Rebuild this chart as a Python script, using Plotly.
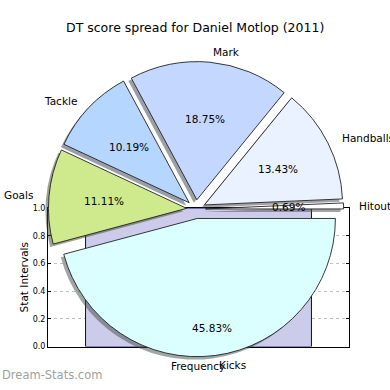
import math
import plotly.graph_objects as go

# ---- data ----
title_text = "DT score spread for Daniel Motlop (2011)"
slice_labels = ["Kicks", "Goals", "Tackle", "Mark", "Handballs", "Hitout"]
slice_values = [198, 48, 44, 81, 58, 3]
bar_categories = [0]
bar_values = [1.0]
y_ticks = [0.0, 0.2, 0.4, 0.6, 0.8, 1.0]
y_label = "Stat Intervals"
x_label = "Frequency"
watermark = "Dream-Stats.com"

# ---- style ----
W = H = 390
FONT = "DejaVu Sans"
slice_colors = ["#dbffff", "#cfea8c", "#b4d6ff", "#c4d8ff", "#eaf2ff", "#ffffff"]
pct_dist = [0.82, 0.6, 0.6, 0.6, 0.6, 0.6]
label_dist = 1.1
PULL = 0.068
PIE_CX, PIE_CY, PIE_R = 196.0, 210.0, 138.0   # px (y from top)
DOMAIN_FIX = 1.025
SHADOW = 3.0
AX_L, AX_R, AX_T, AX_B = 48.0, 349.0, 209.0, 350.7


def hex_rgb(h):
    h = h.lstrip("#")
    return tuple(int(h[i:i + 2], 16) for i in (0, 2, 4))


half = PIE_R * (1 + PULL) * DOMAIN_FIX


def pie_domain(dx, dy):
    cx, cy = PIE_CX + dx, PIE_CY + dy
    return dict(x=[(cx - half) / W, (cx + half) / W],
                y=[(H - cy - half) / H, (H - cy + half) / H])


fig = go.Figure()

fig.add_trace(go.Bar(
    x=bar_categories, y=bar_values, width=0.8,
    marker=dict(color="#ccccea", line=dict(color="#000080", width=1)),
    hoverinfo="skip", showlegend=False,
))

shadow_colors = []
for c in slice_colors:
    r, g, b = hex_rgb(c)
    shadow_colors.append(f"rgba({int(r*0.3)},{int(g*0.3)},{int(b*0.3)},0.5)")

common = dict(values=slice_values, labels=slice_labels, sort=False,
              direction="clockwise", rotation=90, pull=[PULL] * len(slice_values),
              textinfo="none", hoverinfo="skip", showlegend=False)

fig.add_trace(go.Pie(domain=pie_domain(-SHADOW, SHADOW),
                     marker=dict(colors=shadow_colors, line=dict(width=0)), **common))
fig.add_trace(go.Pie(domain=pie_domain(0, 0),
                     marker=dict(colors=slice_colors, line=dict(color="#222222", width=0.9)),
                     **common))

annotations = []
total = float(sum(slice_values))
cum = 0.0
d = PULL * PIE_R
for lab, v, pd in zip(slice_labels, slice_values, pct_dist):
    a0 = -cum / total * 360.0
    cum += v
    a1 = -cum / total * 360.0
    am = math.radians((a0 + a1) / 2)
    ca, sa = math.cos(am), math.sin(am)
    rl = d + label_dist * PIE_R
    lx = PIE_CX + rl * ca
    ly = PIE_CY - rl * sa
    annotations.append(dict(x=lx / W, y=(H - ly) / H, xref="paper", yref="paper",
                            text=lab, showarrow=False,
                            xanchor="left" if ca > 0 else "right", yanchor="middle",
                            font=dict(family=FONT, size=10.5, color="#000")))
    rp = d + pd * PIE_R
    px = PIE_CX + rp * ca
    py = PIE_CY - rp * sa
    annotations.append(dict(x=px / W, y=(H - py) / H, xref="paper", yref="paper",
                            text=f"{v / total * 100:.2f}%", showarrow=False,
                            xanchor="center", yanchor="middle",
                            font=dict(family=FONT, size=10.5, color="#000")))

annotations.append(dict(x=195 / W, y=(H - 24) / H, xref="paper", yref="paper",
                        text=title_text, showarrow=False, xanchor="center", yanchor="middle",
                        font=dict(family=FONT, size=12.5, color="#000")))
annotations.append(dict(x=24 / W, y=(H - (AX_T + AX_B) / 2) / H, xref="paper", yref="paper",
                        text=y_label, showarrow=False, textangle=-90,
                        xanchor="center", yanchor="middle",
                        font=dict(family=FONT, size=10.5, color="#000")))
annotations.append(dict(x=198 / W, y=(H - 371) / H, xref="paper", yref="paper",
                        text=x_label, showarrow=False, xanchor="center", yanchor="middle",
                        font=dict(family=FONT, size=10.5, color="#000")))
annotations.append(dict(x=0, y=(H - 380) / H, xref="paper", yref="paper",
                        text=watermark, showarrow=False, xanchor="left", yanchor="middle",
                        font=dict(family=FONT, size=11.5, color="#a0a0a0")))

fig.update_layout(
    width=W, height=H, margin=dict(l=0, r=0, t=0, b=0),
    paper_bgcolor="white", plot_bgcolor="white",
    xaxis=dict(domain=[AX_L / W, AX_R / W], range=[-0.533, 0.533],
               showticklabels=False, showgrid=False, zeroline=False,
               showline=True, linecolor="#000", linewidth=1, mirror=True, ticks=""),
    yaxis=dict(domain=[(H - AX_B) / H, (H - AX_T) / H], range=[0, 1.0],
               tickvals=y_ticks, ticktext=[f"{t:.1f}" for t in y_ticks],
               tickfont=dict(family=FONT, size=8, color="#000"),
               showgrid=True, gridcolor="#c0c0c0", griddash="dot", gridwidth=1,
               zeroline=False, showline=True, linecolor="#000", linewidth=1,
               mirror="ticks", ticks="inside", ticklen=3, tickcolor="#000"),
    annotations=annotations,
    font=dict(family=FONT),
)

fig.write_html("out.html")
